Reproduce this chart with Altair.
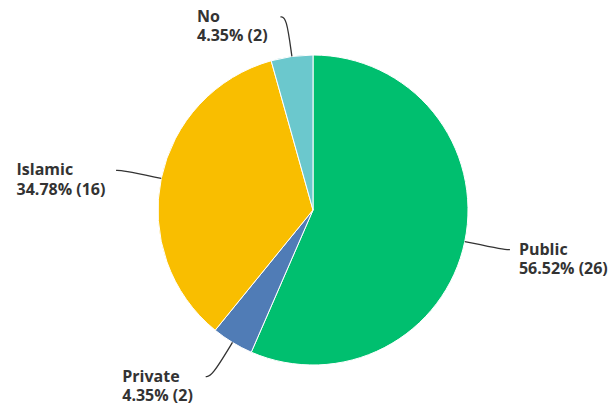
import altair as alt
import pandas as pd

categories = ["Public", "Private", "Islamic", "No"]
percents = [56.52, 4.35, 34.78, 4.35]
counts = [26, 2, 16, 2]
colors = ["#00BF6F", "#507CB6", "#F9BE00", "#6BC8CD"]

df = pd.DataFrame({
    "cat": categories,
    "pct": percents,
    "n": counts,
    "ord": list(range(len(categories))),
})
df["line2"] = [f"{p:.2f}% ({c})" for p, c in zip(percents, counts)]
df["label"] = [f"{a}\n{b}" for a, b in zip(df["cat"], df["line2"])]

# layout constants (pixels)
CX, CY, R, R1, HOOK = 313, 210, 155, 195, 6
CHARW, GAP_L, GAP_R, LINE_H = 8.05, 11, 9, 19.5

base = alt.Chart(df)
color = alt.Color("cat:N", scale=alt.Scale(domain=categories, range=colors), legend=None)

pie = base.mark_arc(outerRadius=R, stroke="white", strokeWidth=1).encode(
    theta=alt.Theta("pct:Q", stack=True),
    order=alt.Order("ord:Q"),
    color=color,
    x=alt.value(CX), y=alt.value(CY),
)

geo = base.transform_joinaggregate(total="sum(pct)").transform_window(
    cum="sum(pct)", sort=[alt.SortField("ord")]
).transform_calculate(
    mid="(datum.cum - datum.pct/2) / datum.total * 2 * PI",
).transform_calculate(
    side="sin(datum.mid) > 0 ? 1 : -1",
    ex=f"{CX} + {R1} * sin(datum.mid)",
    ey=f"{CY} - {R1} * cos(datum.mid)",
).transform_calculate(
    px="datum.ex + datum.side * " + str(HOOK),
)

leaders = geo.transform_calculate(
    steps="[0, 1, 2]"
).transform_flatten(["steps"]).transform_calculate(
    lx=f"datum.steps == 0 ? {CX} + {R} * sin(datum.mid) : (datum.steps == 1 ? datum.ex : datum.px)",
    ly=f"datum.steps == 0 ? {CY} - {R} * cos(datum.mid) : datum.ey",
).mark_line(color="#333333", strokeWidth=1.3, interpolate="basis").encode(
    x=alt.X("lx:Q", scale=None), y=alt.Y("ly:Q", scale=None),
    detail="cat:N", order="steps:Q",
)

labels = geo.transform_calculate(
    tx=f"datum.side > 0 ? datum.px + {GAP_R} : datum.px - {GAP_L} - length(datum.line2) * {CHARW}",
).mark_text(
    font="Open Sans", fontSize=16, fontWeight="bold", color="#333333",
    align="left", baseline="middle", lineBreak="\n", lineHeight=LINE_H,
).encode(
    x=alt.X("tx:Q", scale=None), y=alt.Y("ey:Q", scale=None),
    text="label:N",
)

chart = alt.layer(pie, leaders, labels).properties(
    width=616, height=410, padding=0, autosize="none",
).configure_view(stroke=None)

chart.save("out.html", embed_options={"renderer": "svg", "actions": False})
